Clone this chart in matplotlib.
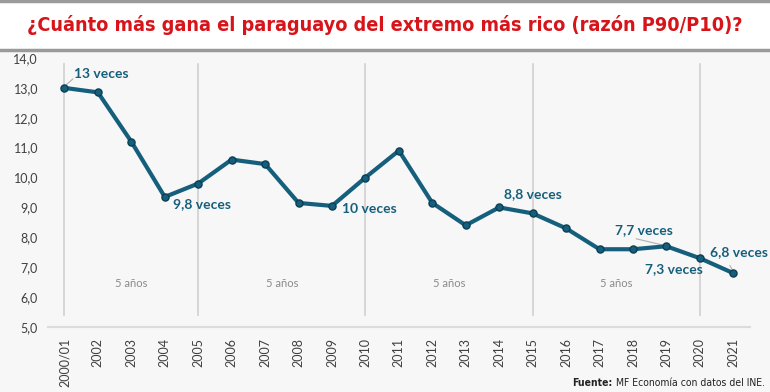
import matplotlib.pyplot as plt
import numpy as np

# --- Data (razón P90/P10)
years = ["2000/01", "2002", "2003", "2004", "2005", "2006", "2007", "2008", "2009", "2010",
         "2011", "2012", "2013", "2014", "2015", "2016", "2017", "2018", "2019", "2020", "2021"]
ratio = [13.0, 12.85, 11.2, 9.35, 9.8, 10.6, 10.45, 9.15, 9.05, 10.0,
         10.9, 9.15, 8.4, 9.0, 8.8, 8.3, 7.6, 7.6, 7.7, 7.3, 6.8]

# callouts: (index, text, x offset, y value)
callouts = [(0, "13 veces", 0.3, 13.45), (4, "9,8 veces", -0.75, 9.1), (9, "10 veces", -0.7, 8.95),
            (14, "8,8 veces", -0.85, 9.45), (18, "7,7 veces", -1.55, 8.25),
            (19, "7,3 veces", -1.65, 6.95), (20, "6,8 veces", -0.7, 7.5)]
period_lines = [0, 4, 9, 14, 19]
period_label = "5 años"

LINE = "#155f7d"
BG = "#f7f7f7"
NARROW = ["DejaVu Sans"]

fig = plt.figure(figsize=(7.7, 3.92), dpi=100, facecolor=BG)
renderer = fig.canvas.get_renderer()

# header band
fig.patches.append(plt.Rectangle((0, 0.872), 1, 0.128, transform=fig.transFigure,
                                 facecolor="white", edgecolor="none", zorder=0))
fig.add_artist(plt.Line2D([0, 1], [0.872, 0.872], color="#9a9a9a", lw=2.5))
fig.add_artist(plt.Line2D([0, 1], [0.997, 0.997], color="#9a9a9a", lw=2.5))
title = fig.text(0.5, 0.935, "¿Cuánto más gana el paraguayo del extremo más rico (razón P90/P10)?",
                 ha="center", va="center", color="#d7141a", fontsize=16, fontweight="bold",
                 family=NARROW, fontstretch="condensed")
# shrink the title until it fits the header width
size = 16
while title.get_window_extent(renderer).width > 725 and size > 8:
    size -= 0.25
    title.set_fontsize(size)

ax = fig.add_axes([0.062, 0.166, 0.912, 0.686])
ax.set_facecolor(BG)
x = np.arange(len(years))

for i in period_lines:
    ax.plot([x[i], x[i]], [5.4, 13.8], color="#d0d0d0", lw=1.2, zorder=1)
for a, b in zip(period_lines[:-1], period_lines[1:]):
    ax.text((x[a] + x[b]) / 2, 6.45, period_label, ha="center", va="center",
            color="#8a8a8a", fontsize=8, family="Lato")

ax.plot(x, ratio, color=LINE, lw=3, zorder=3)
ax.scatter(x, ratio, s=26, color=LINE, edgecolor="#0b3f55", linewidth=1, zorder=4)

for i, txt, dx, yv in callouts:
    ax.text(x[i] + dx, yv, txt, ha="left", va="center", color=LINE,
            fontsize=10, fontweight="bold", family="Lato", zorder=5)

# leader lines
ax.plot([x[0] + 0.05, x[0] + 0.25], [13.1, 13.3], color="#b0b0b0", lw=0.8, zorder=2)
ax.plot([x[18] - 0.9, x[18] - 0.15], [7.95, 7.75], color="#b0b0b0", lw=0.8, zorder=2)
ax.plot([x[20] - 0.1, x[20] - 0.02], [7.05, 6.9], color="#b0b0b0", lw=0.8, zorder=2)

ax.set_xlim(-0.5, 20.5)
ax.set_ylim(5, 14)
ax.set_yticks(np.arange(5, 14.1, 1))
ax.set_yticklabels([f"{v:.1f}".replace(".", ",") for v in np.arange(5, 14.1, 1)])
ax.set_xticks(x)
ax.set_xticklabels(years, rotation=90)
ax.tick_params(axis="both", length=0, labelsize=9, colors="#404040")
ax.tick_params(axis="y", pad=7)
ax.tick_params(axis="x", pad=8)
for lab in ax.get_xticklabels() + ax.get_yticklabels():
    lab.set_family("Lato")
for s in ["top", "right", "left"]:
    ax.spines[s].set_visible(False)
ax.spines["bottom"].set_color("#dcdcdc")
ax.spines["bottom"].set_linewidth(1.5)

# source note: bold "Fuente:" followed by regular text
src = fig.text(0.993, 0.022, " MF Economía con datos del INE.", ha="right", va="center",
               fontsize=7.5, color="#222222", family=NARROW, fontstretch="condensed")
src_left = src.get_window_extent(renderer).x0
fig.text(src_left / fig.bbox.width, 0.022, "Fuente:", ha="right", va="center",
         fontsize=7.5, color="#222222", fontweight="bold", family=NARROW, fontstretch="condensed")

fig.savefig("out.png", dpi=100, facecolor=BG)
